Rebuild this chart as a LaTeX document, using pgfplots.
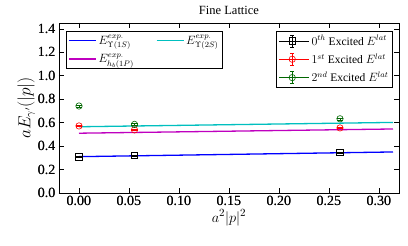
\documentclass[border=0pt]{standalone}
\usepackage{pgfplots}
\pgfplotsset{compat=1.18}
\usepackage{fontspec}
\setmainfont{Liberation Serif}
\definecolor{mblue}{RGB}{0,0,255}
\definecolor{mcyan}{RGB}{0,191,191}
\definecolor{mmag}{RGB}{191,0,191}
\definecolor{mred}{RGB}{255,0,0}
\definecolor{mgreen}{RGB}{0,128,0}
\begin{document}
\begin{tikzpicture}
\pgfplotsset{common/.style={
  width=340pt,height=170pt,scale only axis,
  xmin=-0.02,xmax=0.32,ymin=0,ymax=1.45,
  xtick={0,0.05,0.1,0.15,0.2,0.25,0.3},
  ytick={0,0.2,0.4,0.6,0.8,1.0,1.2,1.4},
  xticklabel style={/pgf/number format/.cd,fixed,fixed zerofill,precision=2,assume math mode=true},
  yticklabel style={/pgf/number format/.cd,fixed,fixed zerofill,precision=1,assume math mode=true},
  tick label style={font=\fontsize{14}{14}\selectfont},
  tick align=inside, xtick pos=both, ytick pos=both,
  major tick length=5pt,
  tick style={black,line width=0.6pt},
  axis line style={line width=0.9pt},
  legend style={font=\fontsize{11.5}{12}\selectfont, draw=black, line width=0.9pt, inner sep=2pt},
}}
\begin{axis}[common, name=ax,
  title={Fine Lattice}, title style={font=\fontsize{12.5}{12.5}\selectfont, yshift=-1pt},
  xlabel={$a^2|p|^2$}, ylabel={$aE_{\gamma'}(|p|)$},
  xlabel style={font=\fontsize{15}{15}\selectfont, yshift=3pt},
  ylabel style={font=\fontsize{16}{16}\selectfont, yshift=-4pt},
  legend columns=2,
  legend style={at={(0.02,0.955)},anchor=north west, row sep=4pt,
    /tikz/every even column/.append style={column sep=20pt}},
  legend cell align=left,
  legend image code/.code={\draw[#1] (0pt,0pt) -- (27pt,0pt);},
]
\addplot[mblue, line width=1.3pt] coordinates {(0,0.310) (0.314,0.350)};
\addlegendentry{$E^{exp.}_{\Upsilon(1S)}$}
\addplot[mcyan, line width=1.3pt] coordinates {(0,0.565) (0.314,0.602)};
\addlegendentry{$E^{exp.}_{\Upsilon(2S)}$}
\addplot[mmag, line width=1.3pt] coordinates {(0,0.510) (0.314,0.546)};
\addlegendentry{$E^{exp.}_{h_b(1P)}$}
\end{axis}
\begin{axis}[common,
  legend style={at={(0.982,0.955)},anchor=north east, row sep=3pt},
  legend cell align=left,
  legend image code/.code={
    \draw[#1,mark=none] (13pt,-6pt) -- (13pt,6pt);
    \draw[#1,mark=none] (11pt,-6pt) -- (15pt,-6pt);
    \draw[#1,mark=none] (11pt,6pt) -- (15pt,6pt);
    \draw[#1] plot coordinates {(13pt,0pt)};
    \path (0pt,0pt) -- (30pt,0pt);
  },
]
\addplot[black, only marks, mark=square, mark size=3.2pt, line width=0.6pt,
  error bars/.cd, y dir=both, y explicit] coordinates {
  (0,0.310) +- (0,0.006) (0.0555,0.320) +- (0,0.006) (0.261,0.345) +- (0,0.006)};
\addlegendentry{$0^{th}$ Excited $E^{lat}$}
\addplot[mred, only marks, mark=o, mark size=3.2pt, line width=0.6pt,
  error bars/.cd, y dir=both, y explicit] coordinates {
  (0,0.572) +- (0,0.006) (0.0555,0.538) +- (0,0.006) (0.261,0.555) +- (0,0.006)};
\addlegendentry{$1^{st}$ Excited $E^{lat}$}
\addplot[mgreen!80!black, only marks, mark=o, mark size=3.2pt, line width=0.6pt,
  error bars/.cd, y dir=both, y explicit] coordinates {
  (0,0.742) +- (0,0.008) (0.0555,0.585) +- (0,0.008) (0.261,0.633) +- (0,0.008)};
\addlegendentry{$2^{nd}$ Excited $E^{lat}$}
\end{axis}
\pgfresetboundingbox
\path[use as bounding box] ([shift={(-59pt,-53pt)}]ax.south west) rectangle ([shift={(9pt,23pt)}]ax.north east);
\end{tikzpicture}
\end{document}
